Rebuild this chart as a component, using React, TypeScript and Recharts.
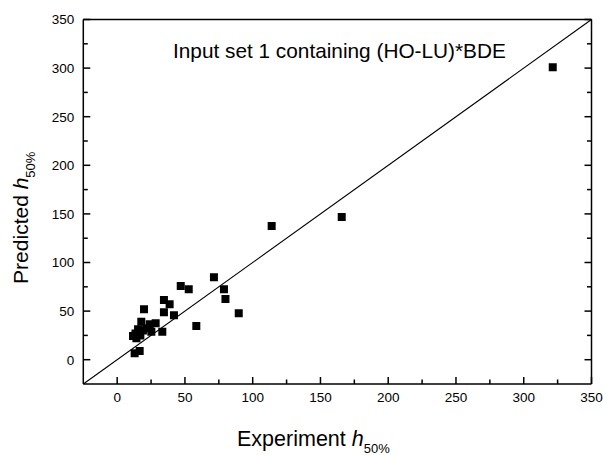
import React from 'react';
import { ScatterChart, Scatter, XAxis, YAxis, ZAxis, ReferenceLine, ReferenceDot } from 'recharts';

const expX = [11.7, 14.2, 17.1, 15.4, 21.5, 17.8, 24.0, 28.4, 25.2, 33.3, 19.8, 34.5, 38.7, 34.5, 41.9, 46.9, 52.8, 71.4, 78.8, 79.9, 58.4, 89.7, 12.9, 16.6, 114.0, 165.7, 321.4, 19.0, 13.5];
const predY = [24.4, 22.0, 25.0, 31.3, 32.3, 39.1, 36.4, 37.4, 28.8, 28.8, 51.9, 61.4, 57.0, 48.8, 45.7, 75.8, 72.4, 84.8, 72.4, 62.4, 34.7, 47.7, 6.6, 9.0, 137.6, 146.8, 300.8, 30.0, 27.0];
const axisTicks = [0, 25, 50, 75, 100, 125, 150, 175, 200, 225, 250, 275, 300, 325, 350];
const axisDomain = [-25, 350];
const diagonal = [{ x: -25, y: -25 }, { x: 350, y: 350 }];
const titleText = 'Input set 1 containing (HO-LU)*BDE';
const titlePos = { x: 164, y: 310 };

const points = expX.map((x, i) => ({ x, y: predY[i] }));

const FONT = '"Liberation Sans", Arial, sans-serif';
const MAJ = 7;
const MIN = 4.5;
const SW = 1.5;

const isMajor = (v: number) => v % 50 === 0;

const BottomTick = (p: any) => {
  const { x, y, payload } = p;
  const v = payload.value;
  const len = isMajor(v) ? MAJ : MIN;
  return (
    <g>
      <line x1={x} x2={x} y1={y} y2={y - len} stroke="#000" strokeWidth={SW} />
      {isMajor(v) && (
        <text x={x} y={y + 18} textAnchor="middle" fontSize={13.5} fontFamily={FONT} fill="#000">{v}</text>
      )}
    </g>
  );
};

const TopTick = (p: any) => {
  const { x, y, payload } = p;
  const len = isMajor(payload.value) ? MAJ : MIN;
  return <line x1={x} x2={x} y1={y} y2={y + len} stroke="#000" strokeWidth={SW} />;
};

const LeftTick = (p: any) => {
  const { x, y, payload } = p;
  const v = payload.value;
  const len = isMajor(v) ? MAJ : MIN;
  return (
    <g>
      <line x1={x} x2={x + len} y1={y} y2={y} stroke="#000" strokeWidth={SW} />
      {isMajor(v) && (
        <text x={x - 9} y={y + 4.8} textAnchor="end" fontSize={13.5} fontFamily={FONT} fill="#000">{v}</text>
      )}
    </g>
  );
};

const RightTick = (p: any) => {
  const { x, y, payload } = p;
  const len = isMajor(payload.value) ? MAJ : MIN;
  return <line x1={x} x2={x - len} y1={y} y2={y} stroke="#000" strokeWidth={SW} />;
};

const XLabel = (p: any) => {
  const vb = p.viewBox || { x: 83.3, y: 384, width: 508, height: 1 };
  const cx = vb.x + vb.width / 2 - 24;
  const by = vb.y + 62;
  return (
    <text x={cx} y={by} textAnchor="middle" fontSize={21.5} fontFamily={FONT} fill="#000">
      Experiment <tspan fontStyle="italic">h</tspan>
      <tspan fontSize={13} dy={7}>50%</tspan>
    </text>
  );
};

const YLabel = (p: any) => {
  const vb = p.viewBox || { x: 82, y: 19.5, width: 1, height: 364.5 };
  const bx = 28;
  const cy = vb.y + vb.height / 2 + 16;
  return (
    <text x={bx} y={cy} transform={`rotate(-90, ${bx}, ${cy})`} textAnchor="middle" fontSize={21} fontFamily={FONT} fill="#000">
      Predicted <tspan fontStyle="italic">h</tspan>
      <tspan fontSize={13} dy={7}>50%</tspan>
    </text>
  );
};

const TitleShape = (p: any) => (
  <text x={p.cx} y={p.cy} textAnchor="middle" fontSize={20.8} fontFamily={FONT} fill="#000">{titleText}</text>
);

export default function App() {
  return (
    <div style={{ position: 'absolute', left: 0, top: 0, width: 603, height: 455 }}>
      <ScatterChart width={603} height={455} margin={{ top: 18.5, right: 10.5, bottom: 70, left: 82.3 }}>
        <XAxis xAxisId="b" type="number" dataKey="x" domain={axisDomain} ticks={axisTicks} interval={0}
          allowDataOverflow height={1} tickSize={0} tickMargin={0} tickLine={false}
          axisLine={{ stroke: '#000', strokeWidth: SW }} tick={<BottomTick />} label={{ content: <XLabel /> }} />
        <XAxis xAxisId="t" orientation="top" type="number" domain={axisDomain} ticks={axisTicks} interval={0}
          allowDataOverflow height={1} tickSize={0} tickMargin={0} tickLine={false}
          axisLine={{ stroke: '#000', strokeWidth: SW }} tick={<TopTick />} />
        <YAxis yAxisId="l" type="number" dataKey="y" domain={axisDomain} ticks={axisTicks} interval={0}
          allowDataOverflow width={1} tickSize={0} tickMargin={0} tickLine={false}
          axisLine={{ stroke: '#000', strokeWidth: SW }} tick={<LeftTick />} label={{ content: <YLabel /> }} />
        <YAxis yAxisId="r" orientation="right" type="number" domain={axisDomain} ticks={axisTicks} interval={0}
          allowDataOverflow width={1} tickSize={0} tickMargin={0} tickLine={false}
          axisLine={{ stroke: '#000', strokeWidth: SW }} tick={<RightTick />} />
        <ZAxis range={[72, 72]} />
        <ReferenceLine xAxisId="b" yAxisId="l" segment={diagonal} stroke="#000" strokeWidth={1.1} />
        <Scatter xAxisId="b" yAxisId="l" data={points} fill="#000" shape="square" isAnimationActive={false} />
        <ReferenceDot xAxisId="b" yAxisId="l" x={titlePos.x} y={titlePos.y} r={0} shape={<TitleShape />} />
      </ScatterChart>
    </div>
  );
}
